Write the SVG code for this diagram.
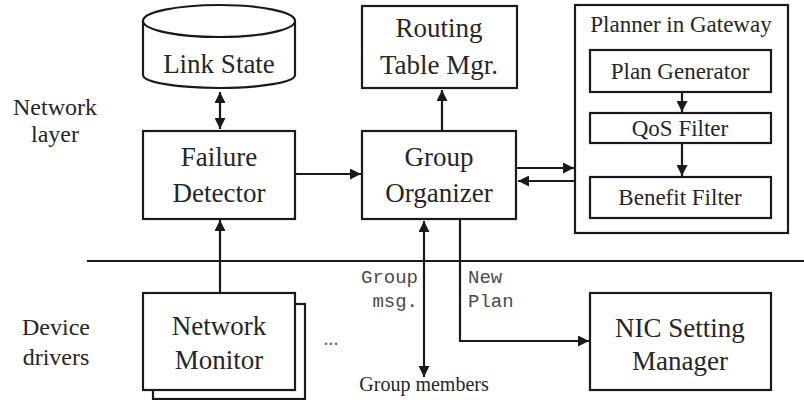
<svg xmlns="http://www.w3.org/2000/svg" width="804" height="400" viewBox="0 0 804 400">
<defs>
<style>
.box{fill:#fff;stroke:#1a1a1a;stroke-width:2.2}
.ln{fill:none;stroke:#1a1a1a;stroke-width:2.2}
.t{font-family:'Liberation Serif','Tinos','Times New Roman','Times','Noto Serif','DejaVu Serif','FreeSerif','Nimbus Roman',serif;fill:#262626;text-anchor:middle}
.big{font-size:27px}
.sm{font-size:23px}
.lbl{font-size:24px}
.mono{font-family:'Liberation Mono','Courier New','DejaVu Sans Mono',monospace;font-size:19px;fill:#4a4a4a}
</style>
<marker id="ah" viewBox="0 0 10 10" refX="10" refY="5" markerWidth="5" markerHeight="5" orient="auto-start-reverse" markerUnits="strokeWidth">
<path d="M0,0 L10,5 L0,10 z" fill="#1a1a1a"/>
</marker>
</defs>
<rect width="804" height="400" fill="#fff"/>

<g id="labels">
<text class="t lbl" x="55" y="115">Network</text>
<text class="t lbl" x="55" y="142">layer</text>
<text class="t lbl" x="56" y="335">Device</text>
<text class="t lbl" x="56" y="365">drivers</text>
<text class="t" x="331" y="345" style="font-size:20px;fill:#666">...</text>
</g>

<g id="link-state">
<path class="box" d="M143,21 L143,75 A76,13 0 0 0 295,75 L295,21"/>
<ellipse class="box" cx="219" cy="21" rx="76" ry="16"/>
<text class="t big" x="219" y="73">Link State</text>
</g>

<g id="failure-detector">
<rect class="box" x="143" y="131" width="152" height="88"/>
<text class="t big" x="219" y="166">Failure</text>
<text class="t big" x="219" y="202">Detector</text>
</g>

<g id="routing-table">
<rect class="box" x="362" y="6" width="155" height="82"/>
<text class="t big" x="439" y="37">Routing</text>
<text class="t big" x="439" y="74">Table Mgr.</text>
</g>

<g id="group-organizer">
<rect class="box" x="362" y="131" width="154" height="88"/>
<text class="t big" x="439" y="166">Group</text>
<text class="t big" x="439" y="202">Organizer</text>
</g>

<g id="planner">
<rect class="box" x="575" y="5" width="213" height="228"/>
<text class="t sm" x="681" y="32">Planner in Gateway</text>
</g>
<g id="plan-generator">
<rect class="box" x="590" y="50" width="181" height="42"/>
<text class="t sm" x="680" y="79">Plan Generator</text>
</g>
<g id="qos-filter">
<rect class="box" x="590" y="113" width="181" height="30"/>
<text class="t sm" x="680" y="136">QoS Filter</text>
</g>
<g id="benefit-filter">
<rect class="box" x="590" y="177" width="181" height="41"/>
<text class="t sm" x="680" y="205">Benefit Filter</text>
</g>

<g id="network-monitor">
<rect class="box" x="153" y="304" width="152" height="95"/>
<rect class="box" x="143" y="293" width="152" height="97"/>
<text class="t big" x="219" y="335">Network</text>
<text class="t big" x="219" y="369">Monitor</text>
</g>

<g id="nic-setting">
<rect class="box" x="590" y="293" width="181" height="97"/>
<text class="t big" x="680" y="337">NIC Setting</text>
<text class="t big" x="680" y="370">Manager</text>
</g>

<g id="group-members">
<text class="t" x="424" y="391" style="font-size:20px">Group members</text>
</g>

<g id="connectors">
<line class="ln" x1="87" y1="261" x2="804" y2="261"/>
<line class="ln" x1="220" y1="92" x2="220" y2="129" marker-start="url(#ah)" marker-end="url(#ah)"/>
<line class="ln" x1="295" y1="174" x2="361" y2="174" marker-end="url(#ah)"/>
<line class="ln" x1="442" y1="131" x2="442" y2="90" marker-end="url(#ah)"/>
<line class="ln" x1="516" y1="168" x2="574" y2="168" marker-end="url(#ah)"/>
<line class="ln" x1="575" y1="181" x2="518" y2="181" marker-end="url(#ah)"/>
<line class="ln" x1="682" y1="92" x2="682" y2="112" marker-end="url(#ah)"/>
<line class="ln" x1="682" y1="143" x2="682" y2="176" marker-end="url(#ah)"/>
<line class="ln" x1="220" y1="293" x2="220" y2="220" marker-end="url(#ah)"/>
<line class="ln" x1="424" y1="221" x2="424" y2="377" marker-start="url(#ah)" marker-end="url(#ah)"/>
<polyline class="ln" points="460,219 460,341 589,341" marker-end="url(#ah)"/>
<text class="mono" x="418" y="283" text-anchor="end">Group</text>
<text class="mono" x="418" y="307" text-anchor="end">msg.</text>
<text class="mono" x="468" y="283">New</text>
<text class="mono" x="468" y="307">Plan</text>
</g>
</svg>
